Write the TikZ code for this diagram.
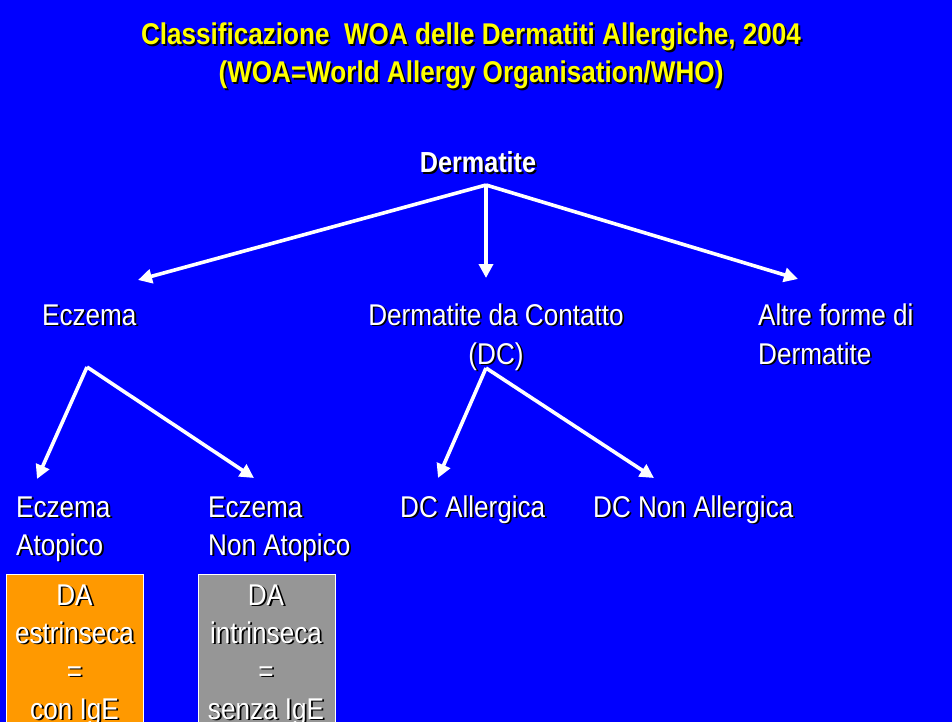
\documentclass[tikz,border=0pt]{standalone}
\usepackage{fontspec}
\setmainfont[FakeStretch=0.87]{Liberation Sans}
\usetikzlibrary{arrows.meta}
\definecolor{bgblue}{HTML}{0000FF}
\definecolor{ttlyellow}{HTML}{FFFF00}
\definecolor{boxorange}{HTML}{FF9900}
\definecolor{boxgray}{HTML}{969696}
\newcommand\shnode[4]{%
  \node[#1,text=black,xshift=1.8pt,yshift=-1.8pt] at (#3) {#4};
  \node[#1] (#2) at (#3) {#4};}
\begin{document}
\begin{tikzpicture}[x=1pt,y=-1pt,
  txt/.style={text=white,inner sep=0pt,font=\fontsize{30}{38}\selectfont},
  ttl/.style={text=ttlyellow,inner sep=0pt,anchor=base,font=\bfseries\fontsize{30}{37}\selectfont},
  bold/.style={text=white,inner sep=0pt,anchor=base,font=\bfseries\fontsize{29}{36}\selectfont},
  lw/.style={txt,anchor=base west},
  ctr/.style={txt,anchor=base},
  arr/.style={draw=white,line width=3.6pt,-{Triangle[length=14pt,width=14pt]}},
  panel/.style={draw=white,line width=0.8pt,anchor=north west,inner sep=0pt,minimum width=137pt,minimum height=160pt}]
\fill[bgblue] (0,0) rectangle (952,722);
\useasboundingbox (0,0) rectangle (952,722);
\clip (0,0) rectangle (952,722);
% title
\shnode{ttl}{t1}{471,45}{Classificazione\ \ WOA delle Dermatiti Allergiche, 2004}
\shnode{ttl}{t2}{471,83}{(WOA=World Allergy Organisation/WHO)}
% root
\shnode{bold}{root}{478,173}{Dermatite}
% level 1
\shnode{lw}{ecz}{42,325}{Eczema}
\shnode{ctr}{dc1}{496,325}{Dermatite da Contatto}
\shnode{ctr}{dc2}{496,364}{(DC)}
\shnode{lw}{alt1}{758,325}{Altre forme di}
\shnode{lw}{alt2}{758,364}{Dermatite}
% level 2
\shnode{lw}{ea1}{16,517}{Eczema}
\shnode{lw}{ea2}{16,555}{Atopico}
\shnode{lw}{en1}{208,517}{Eczema}
\shnode{lw}{en2}{208,555}{Non Atopico}
\shnode{lw}{dca}{400,517}{DC Allergica}
\shnode{lw}{dcn}{593,517}{DC Non Allergica}
% boxes
\node[panel,fill=boxorange] (boxa) at (6,574) {};
\node[panel,fill=boxgray] (boxb) at (198,574) {};
\shnode{ctr}{a1}{74.5,605}{DA}
\shnode{ctr}{a2}{74.5,643}{estrinseca}
\shnode{ctr}{a3}{74.5,681}{=}
\shnode{ctr}{a4}{74.5,719}{con IgE}
\shnode{ctr}{b1}{266,605}{DA}
\shnode{ctr}{b2}{266,643}{intrinseca}
\shnode{ctr}{b3}{266,681}{=}
\shnode{ctr}{b4}{266,719}{senza IgE}
% connectors
\coordinate (r0) at (486,185);
\coordinate (rl) at (138,280);
\coordinate (rm) at (486,278);
\coordinate (rr) at (798,279);
\coordinate (e0) at (87,367);
\coordinate (el) at (37,479);
\coordinate (er) at (254,478);
\coordinate (c0) at (486,368);
\coordinate (cl) at (438,478);
\coordinate (cr) at (654,478);
\draw[arr] (r0) -- (rl);
\draw[arr] (r0) -- (rm);
\draw[arr] (r0) -- (rr);
\draw[arr] (e0) -- (el);
\draw[arr] (e0) -- (er);
\draw[arr] (c0) -- (cl);
\draw[arr] (c0) -- (cr);
\end{tikzpicture}
\end{document}
